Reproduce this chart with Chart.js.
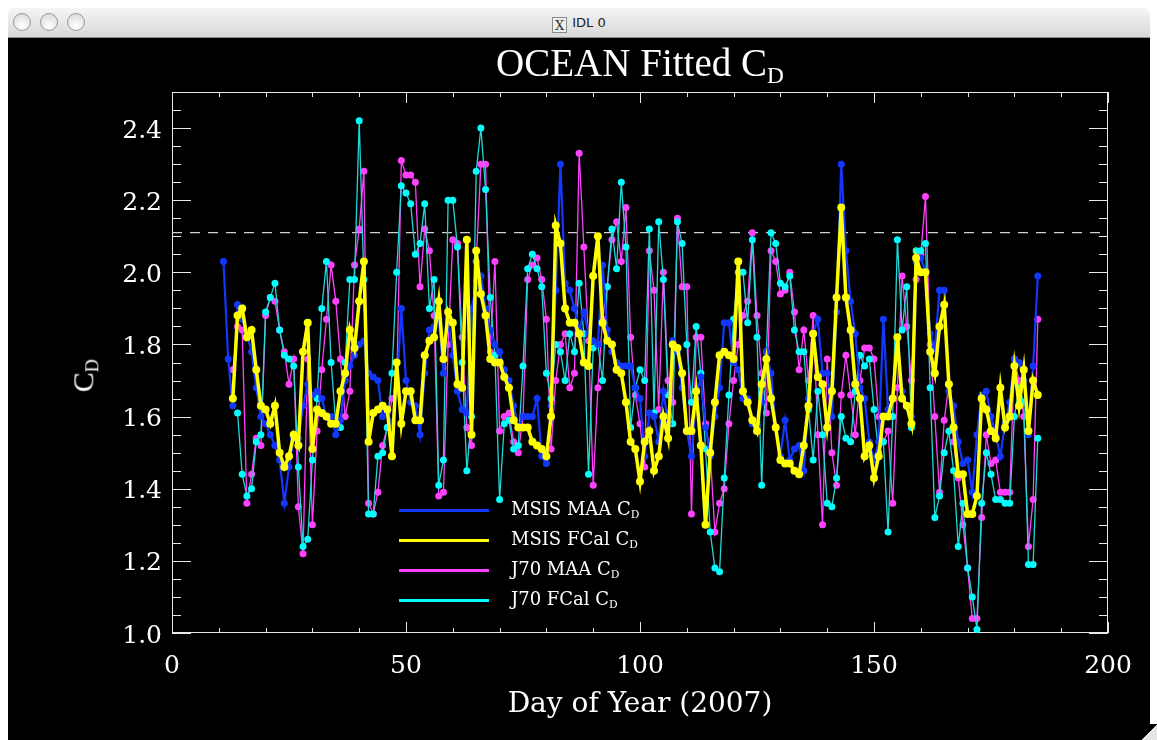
<!DOCTYPE html>
<html>
<head>
<meta charset="utf-8">
<script src="https://cdn.jsdelivr.net/npm/chart.js@4.4.1/dist/chart.umd.min.js"></script>
<style>
  html, body { margin: 0; padding: 0; background: #fff; }
  #page { position: relative; width: 1157px; height: 740px; overflow: hidden; background: #fff; }
  #bar {
    position: absolute; left: 8px; top: 8px; width: 1142px; height: 30px;
    border-radius: 6px 6px 0 0; box-sizing: border-box;
    background: linear-gradient(#f5f5f5, #d8d8d8); border-bottom: 1px solid #8e8e8e;
  }
  .btn {
    position: absolute; top: 5px; width: 18px; height: 18px; border-radius: 50%;
    box-sizing: border-box; border: 1px solid #9a9a9a;
    background: radial-gradient(circle at 50% 75%, #ffffff, #d6d6d6);
  }
  #wtitle { position: absolute; left: 0; right: 0; top: 7px; text-align: center; font: 13px "DejaVu Sans", sans-serif; color: #222; }
  .xicon {
    display: inline-block; width: 13px; height: 14px; line-height: 13px; margin-right: 5px;
    border: 1px solid #8a8a8a; background: #eee; font: 13px "DejaVu Serif", serif; vertical-align: -3px; color: #333;
  }
  #win { position: absolute; left: 8px; top: 38px; width: 1142px; height: 702px; background: #000; }
  #chart { position: absolute; left: 0; top: 0; }
  .txt { position: absolute; color: #fff; font-family: "Liberation Serif", serif; white-space: nowrap; }
  .txt sub { font-size: 0.6em; vertical-align: -0.3em; }
  #title { left: 432px; width: 400px; top: 5px; text-align: center; font-size: 39px; line-height: 39px; }
  #ylab { left: 50px; top: 318px; width: 60px; text-align: center; font-size: 30px; line-height: 30px; transform: rotate(-90deg); }
  .leg-line { position: absolute; left: 391px; width: 90px; height: 3px; }
  .leg-txt { left: 503px; font-family: "DejaVu Serif", serif; font-size: 18px; line-height: 20px; }
  #grip { position: absolute; right: 0; bottom: 0; width: 16px; height: 16px; background: linear-gradient(135deg, #000 50%, #e6e6e6 50%); }
</style>
</head>
<body>
<div id="page">
  <div id="bar">
    <div class="btn" style="left:5px"></div>
    <div class="btn" style="left:32px"></div>
    <div class="btn" style="left:59px"></div>
    <div id="wtitle"><span class="xicon">X</span>IDL 0</div>
  </div>
  <div id="win">
    <canvas id="chart" width="1142" height="702"></canvas>
    <div id="title" class="txt">OCEAN Fitted C<sub>D</sub></div>
    <div id="ylab" class="txt">C<sub>D</sub></div>
    <div id="legend"></div>
  </div>
  <div id="grip"></div>
</div>
<script>
// ---- data (day of year 11..185) ----
const days = [
  11, 12, 13, 14, 15, 16, 17, 18, 19, 20, 21, 22, 23, 24, 25, 26, 27, 28, 29, 30,
  31, 32, 33, 34, 35, 36, 37, 38, 39, 40, 41, 42, 43, 44, 45, 46, 47, 48, 49, 50,
  51, 52, 53, 54, 55, 56, 57, 58, 59, 60, 61, 62, 63, 64, 65, 66, 67, 68, 69, 70,
  71, 72, 73, 74, 75, 76, 77, 78, 79, 80, 81, 82, 83, 84, 85, 86, 87, 88, 89, 90,
  91, 92, 93, 94, 95, 96, 97, 98, 99, 100, 101, 102, 103, 104, 105, 106, 107, 108, 109, 110,
  111, 112, 113, 114, 115, 116, 117, 118, 119, 120, 121, 122, 123, 124, 125, 126, 127, 128, 129, 130,
  131, 132, 133, 134, 135, 136, 137, 138, 139, 140, 141, 142, 143, 144, 145, 146, 147, 148, 149, 150,
  151, 152, 153, 154, 155, 156, 157, 158, 159, 160, 161, 162, 163, 164, 165, 166, 167, 168, 169, 170,
  171, 172, 173, 174, 175, 176, 177, 178, 179, 180, 181, 182, 183, 184, 185
];

const msisMaa = [
  2.03, 1.76, 1.63, 1.91, 1.87, 1.83, 1.78, 1.68, 1.60, 1.58,
  1.55, 1.52, 1.48, 1.36, 1.46, 1.54, 1.54, 1.63, 1.69, 1.66,
  1.67, 1.65, 1.60, 1.60, 1.55, 1.59, 1.70, 1.74, 1.77, 1.80,
  1.81, 1.72, 1.71, 1.70, 1.60, 1.61, 1.58, 1.67, 1.90, 1.70,
  1.64, 1.63, 1.55, 1.72, 1.84, 1.85, 1.87, 1.72, 1.87, 1.77,
  1.67, 1.62, 1.61, 1.90, 1.96, 1.99, 1.90, 1.84, 1.80, 1.78,
  1.73, 1.70, 1.63, 1.57, 1.60, 1.60, 1.60, 1.65, 1.49, 1.47,
  1.63, 1.95, 2.30, 1.97, 1.95, 1.90, 1.84, 1.89, 1.83, 1.81,
  1.80, 2.02, 1.84, 1.78, 1.75, 1.74, 1.74, 1.74, 1.68, 1.65,
  1.49, 1.61, 1.60, 1.53, 1.67, 1.58, 1.81, 1.78, 1.68, 1.56,
  1.49, 1.65, 1.71, 1.57, 1.49, 1.60, 1.68, 1.86, 1.86, 1.75,
  1.73, 1.65, 1.65, 1.58, 1.57, 1.64, 1.78, 1.72, 1.57, 1.49,
  1.59, 1.48, 1.51, 1.52, 1.45, 1.65, 1.83, 1.87, 1.72, 1.72,
  1.60, 1.89, 2.30, 2.06, 1.92, 1.83, 1.68, 1.65, 1.53, 1.48,
  1.53, 1.87, 1.62, 1.65, 1.82, 1.67, 1.63, 1.60, 2.03, 2.04,
  2.00, 1.83, 1.79, 1.95, 1.95, 1.67, 1.63, 1.53, 1.47, 1.48,
  1.39, 1.55, 1.66, 1.67, 1.60, 1.55, 1.49, 1.58, 1.64, 1.76,
  1.75, 1.70, 1.55, 1.74, 1.99
];

const msisFcal = [
  null, null, 1.65, 1.88, 1.90, 1.82, 1.84, 1.73, 1.63, 1.62,
  1.58, 1.63, 1.50, 1.46, 1.49, 1.55, 1.52, 1.78, 1.86, 1.51,
  1.62, 1.61, 1.60, 1.58, 1.58, 1.67, 1.72, 1.84, 1.79, 1.92,
  2.03, 1.53, 1.61, 1.62, 1.63, 1.62, 1.49, 1.75, 1.58, 1.67,
  1.67, 1.59, 1.59, 1.77, 1.81, 1.82, 1.92, 1.76, 1.89, 1.86,
  1.69, 1.68, 2.09, 1.55, 2.06, 1.94, 1.88, 1.76, 1.75, 1.75,
  1.71, 1.68, 1.59, 1.57, 1.57, 1.57, 1.53, 1.52, 1.51, 1.49,
  1.60, 2.13, 2.08, 1.90, 1.86, 1.86, 1.83, 1.75, 1.74, 1.99,
  2.10, 1.86, 1.81, 1.80, 1.73, 1.72, 1.64, 1.53, 1.51, 1.42,
  1.53, 1.56, 1.45, 1.49, 1.60, 1.54, 1.80, 1.79, 1.72, 1.56,
  1.56, 1.67, 1.52, 1.30, 1.50, 1.64, 1.77, 1.78, 1.77, 1.76,
  2.03, 1.67, 1.64, 1.59, 1.56, 1.69, 1.76, 1.65, 1.57, 1.48,
  1.47, 1.47, 1.45, 1.44, 1.52, 1.63, 1.83, 1.71, 1.69, 1.57,
  1.67, 1.93, 2.18, 1.93, 1.84, 1.69, 1.65, 1.49, 1.52, 1.43,
  1.49, 1.60, 1.60, 1.65, 1.82, 1.65, 1.63, 1.58, 2.04, 2.00,
  2.00, 1.78, 1.72, 1.85, 1.91, 1.69, 1.57, 1.44, 1.44, 1.33,
  1.33, 1.38, 1.65, 1.62, 1.56, 1.54, 1.68, 1.57, 1.60, 1.74,
  1.63, 1.73, 1.56, 1.70, 1.66
];

const j70Maa = [
  null, null, 1.73, 1.85, 1.84, 1.36, 1.44, 1.54, 1.52, 1.88,
  1.93, 1.92, 1.84, 1.78, 1.69, 1.76, 1.35, 1.22, 1.76, 1.30,
  1.56, 1.73, 1.87, 2.02, 1.92, 1.76, 1.60, 1.67, 2.02, 2.12,
  2.28, 1.36, 1.33, 1.39, 1.52, 1.57, 1.65, 1.67, 2.31, 2.27,
  2.27, 2.25, 1.96, 2.12, 2.06, 1.88, 1.38, 1.39, 1.80, 2.09,
  2.08, 1.82, 1.57, 1.52, 2.03, 2.30, 2.30, 1.78, 2.03, 1.56,
  1.60, 1.61, 1.53, 1.50, 1.60, 1.98, 2.02, 2.04, 1.98, 1.87,
  1.51, 1.70, 1.80, 1.83, 1.68, 1.72, 2.33, 2.07, 1.81, 1.41,
  1.68, 1.87, 1.96, 2.09, 2.14, 2.03, 2.18, 1.82, 1.66, 1.58,
  1.46, 2.06, 1.95, 1.62, 2.00, 1.70, 1.64, 2.15, 1.96, 1.96,
  1.33, 1.82, 1.82, 1.58, 1.50, 1.28, 1.36, 1.40, 1.58, 1.70,
  1.80, 1.88, 1.92, 2.11, 1.88, 1.72, 1.61, 2.06, 2.03, 1.94,
  1.95, 2.00, 1.89, 1.73, 1.84, 1.70, 1.88, 1.55, 1.30, 1.76,
  1.50, 1.41, 1.66, 1.77, 1.66, 1.55, 1.70, 1.79, 1.79, 1.76,
  1.60, 1.53, 1.56, 1.36, 1.68, 1.99, 1.85, 1.70, 1.98, 2.05,
  2.21, 1.80, 1.60, 1.39, 1.59, 1.69, 1.53, 1.43, 1.30, 1.18,
  1.04, 1.04, 1.32, 1.55, 1.47, 1.48, 1.39, 1.39, 1.39, 1.76,
  1.70, 1.60, 1.24, 1.37, 1.87
];

const j70Fcal = [
  null, null, null, 1.61, 1.44, 1.38, 1.40, 1.53, 1.55, 1.89,
  1.93, 1.97, 1.84, 1.77, 1.76, 1.74, 1.46, 1.24, 1.26, 1.48,
  1.65, 1.90, 2.03, 1.75, 1.58, 1.57, 1.75, 1.98, 1.98, 2.42,
  1.98, 1.33, 1.33, 1.49, 1.50, 1.57, 1.72, 2.00, 2.24, 2.22,
  2.19, 2.05, 2.08, 2.19, 1.90, 1.98, 1.41, 1.48, 2.20, 2.20,
  2.07, 1.75, 1.45, 1.60, 2.28, 2.40, 2.23, 1.93, 1.77, 1.37,
  1.58, 1.59, 1.51, 1.52, 1.74, 2.01, 2.05, 2.01, 1.96, 1.72,
  1.65, 1.80, 1.78, 1.70, 1.83, 1.78, 1.97, 1.83, 1.44, 1.79,
  1.80, 1.70, 1.96, 2.12, 2.01, 2.25, 2.07, 1.57, 1.68, 1.73,
  1.70, 2.12, 1.61, 2.14, 1.98, 1.66, 1.58, 2.14, 2.08, 1.80,
  1.64, 1.85, 1.72, 1.51, 1.28, 1.18, 1.17, 1.43, 1.66, 1.87,
  2.00, 2.00, 1.86, 2.09, 1.82, 1.41, 1.78, 2.11, 2.08, 1.97,
  1.96, 1.99, 1.84, 1.78, 1.78, 1.62, 1.48, 1.67, 1.55, 1.36,
  1.35, 1.43, 1.60, 1.54, 1.53, 1.67, 1.77, 1.74, 1.76, 1.62,
  1.50, 1.53, 1.28, 1.60, 2.09, 1.84, 1.96, 1.57, 2.06, 2.06,
  2.08, 1.68, 1.32, 1.38, 1.50, 1.56, 1.45, 1.24, 1.36, 1.18,
  1.10, 1.01, 1.36, 1.50, 1.44, 1.37, 1.37, 1.36, 1.36, 1.60,
  1.68, 1.64, 1.19, 1.19, 1.54
];

const threshold = 2.11;
const xTickValues = [0, 50, 100, 150, 200];
const yTickValues = [1.0, 1.2, 1.4, 1.6, 1.8, 2.0, 2.2, 2.4];

const SERIES = [
  { name: 'MSIS MAA', vals: msisMaa,  line: '#1238ff', dot: '#1238ff', width: 2.2, r: 3.5, order: 3 },
  { name: 'MSIS FCal', vals: msisFcal, line: '#ffff00', dot: '#ffff00', width: 3.5, r: 4,   order: 1 },
  { name: 'J70 MAA',  vals: j70Maa,   line: '#ff40ff', dot: '#ff40ff', width: 1.3, r: 3.5, order: 5 },
  { name: 'J70 FCal', vals: j70Fcal,  line: '#20d8d8', dot: '#00ffff', width: 1.3, r: 3.5, order: 4 },
];

const TICK_FONT = '"DejaVu Serif", serif';
const TITLE_FONT = '"DejaVu Serif", serif';

// IDL-style box with inward ticks on all four sides
const idlBox = {
  id: 'idlBox',
  beforeDatasetsDraw(chart) {
    const { ctx, chartArea: a, scales: { x, y } } = chart;
    ctx.save();
    ctx.strokeStyle = '#e8e8e8';
    ctx.lineWidth = 1;
    ctx.strokeRect(a.left + 0.5, a.top + 0.5, a.right - a.left - 1, a.bottom - a.top - 1);
    ctx.beginPath();
    for (let v = 0; v <= 200; v += 10) {
      const px = Math.round(x.getPixelForValue(v)) + 0.5;
      const len = v % 50 === 0 ? 11 : 5;
      ctx.moveTo(px, a.bottom); ctx.lineTo(px, a.bottom - len);
      ctx.moveTo(px, a.top);    ctx.lineTo(px, a.top + len);
    }
    for (let i = 0; i <= 30; i++) {
      const py = Math.round(y.getPixelForValue(1 + i * 0.05)) + 0.5;
      const len = i % 4 === 0 ? 19 : 9;
      ctx.moveTo(a.left, py);  ctx.lineTo(a.left + len, py);
      ctx.moveTo(a.right, py); ctx.lineTo(a.right - len, py);
    }
    ctx.stroke();
    ctx.restore();
  }
};

const datasets = SERIES.map(s => ({
  label: s.name,
  data: days.map((d, i) => ({ x: d, y: s.vals[i] })),
  borderColor: s.line,
  backgroundColor: s.dot,
  pointBackgroundColor: s.dot,
  pointBorderColor: s.dot,
  borderWidth: s.width,
  pointRadius: s.r,
  pointBorderWidth: 0,
  tension: 0,
  spanGaps: false,
  order: s.order,
}));

datasets.push({
  label: 'threshold',
  data: [{ x: 0, y: threshold }, { x: 200, y: threshold }],
  borderColor: '#d0d0d0',
  borderWidth: 1.2,
  borderDash: [10, 8],
  pointRadius: 0,
  order: 10,
});

new Chart(document.getElementById('chart').getContext('2d'), {
  type: 'line',
  data: { datasets },
  options: {
    responsive: false,
    animation: false,
    devicePixelRatio: 1,
    layout: { padding: { left: 64, right: 42, top: 54, bottom: 17 } },
    plugins: { legend: { display: false }, tooltip: { enabled: false } },
    scales: {
      x: {
        type: 'linear', min: 0, max: 200,
        afterBuildTicks: s => { s.ticks = xTickValues.map(v => ({ value: v })); },
        afterFit: s => { s.height = 90; },
        grid: { display: false, drawTicks: false },
        border: { display: false },
        ticks: { color: '#fff', font: { family: TICK_FONT, size: 25 }, padding: 18, maxRotation: 0, callback: v => String(v) },
        title: { display: true, text: 'Day of Year (2007)', color: '#fff', font: { family: TITLE_FONT, size: 28 }, padding: { top: 0, bottom: 1 } },
      },
      y: {
        type: 'linear', min: 1.0, max: 2.5,
        afterBuildTicks: s => { s.ticks = yTickValues.map(v => ({ value: v })); },
        afterFit: s => { s.width = 100; },
        grid: { display: false, drawTicks: false },
        border: { display: false },
        ticks: { color: '#fff', font: { family: TICK_FONT, size: 25 }, padding: 10, labelOffset: 3, callback: v => v.toFixed(1) },
      },
    },
  },
  plugins: [idlBox],
});

// legend (text needs a subscript, so it is HTML)
const legend = document.getElementById('legend');
const legendY = [472, 502, 532, 562];
SERIES.forEach((s, i) => {
  const ln = document.createElement('div');
  ln.className = 'leg-line';
  ln.style.top = (legendY[i] - 1) + 'px';
  ln.style.background = s.dot;
  legend.appendChild(ln);
  const tx = document.createElement('div');
  tx.className = 'txt leg-txt';
  tx.style.top = (legendY[i] - 11) + 'px';
  tx.innerHTML = s.name + ' C<sub>D</sub>';
  legend.appendChild(tx);
});
</script>
</body>
</html>
